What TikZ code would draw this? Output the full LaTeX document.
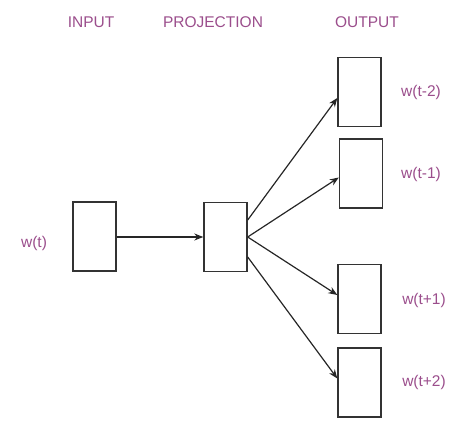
\documentclass[tikz,border=0pt]{standalone}
\usepackage{fontspec}
\setmainfont{Liberation Sans}
\usetikzlibrary{arrows.meta,calc}
\definecolor{lbl}{RGB}{155,78,140}
\begin{document}
\begin{tikzpicture}[x=1pt,y=-1pt,
  box/.style={draw=black!80,line width=1.4pt,minimum width=43pt,minimum height=69pt,inner sep=0pt},
  lab/.style={text=lbl,font=\fontsize{15.5}{17}\selectfont,inner sep=0pt},
  conn/.style={draw=black!85,line width=1.2pt,-{Stealth[length=9pt,width=7pt]}}]
\useasboundingbox (0,0) rectangle (462,427);
\node[lab] (tin) at (91,22) {INPUT};
\node[lab] (tpr) at (213,22) {PROJECTION};
\node[lab] (tout) at (367,22) {OUTPUT};
\node[box] (in) at (94.5,236.5) {};
\node[box] (pr) at (225.5,237) {};
\node[box] (o1) at (359.5,92) {};
\node[box] (o2) at (361,173.5) {};
\node[box] (o3) at (359.5,299) {};
\node[box] (o4) at (359.5,382.5) {};
\node[lab] (lw) at (34,243) {w(t)};
\node[lab] (l1) at (421,92) {w(t-2)};
\node[lab] (l2) at (421,174) {w(t-1)};
\node[lab] (l3) at (424,300) {w(t+1)};
\node[lab] (l4) at (424,382) {w(t+2)};
\coordinate (s1) at ($(pr.east)+(0,-17)$);
\coordinate (s4) at ($(pr.east)+(0,20)$);
\coordinate (e1) at ($(o1.west)+(0,6)$);
\coordinate (e2) at ($(o2.west)+(0,4)$);
\coordinate (e3) at ($(o3.west)+(0,-4)$);
\coordinate (e4) at ($(o4.west)+(0,-4)$);
\draw[conn] (in.east|-pr.east) -- (pr.east-|pr.west);
\draw[conn] (s1) -- (e1);
\draw[conn] (pr.east) -- (e2);
\draw[conn] (pr.east) -- (e3);
\draw[conn] (s4) -- (e4);
\end{tikzpicture}
\end{document}
